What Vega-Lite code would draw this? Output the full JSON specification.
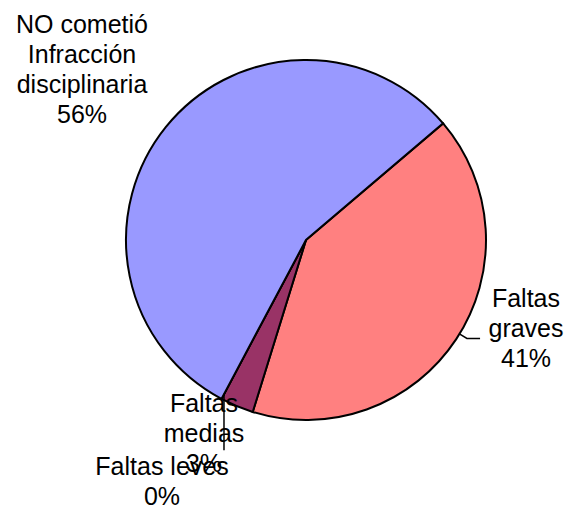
{
  "$schema": "https://vega.github.io/schema/vega-lite/v6.json",
  "width": 360,
  "height": 362,
  "autosize": "none",
  "padding": {"left": 126, "top": 59, "right": 85, "bottom": 89},
  "background": "white",
  "config": {"view": {"stroke": null}, "font": "Liberation Sans"},
  "layer": [
    {
      "data": {"values": [
        {"cat": "Faltas graves", "value": 41, "ord": 1},
        {"cat": "Faltas medias", "value": 3, "ord": 2},
        {"cat": "Faltas leves", "value": 0, "ord": 3},
        {"cat": "NO cometió Infracción disciplinaria", "value": 56, "ord": 4}
      ]},
      "mark": {"type": "arc", "stroke": "black", "strokeWidth": 2, "outerRadius": 180},
      "encoding": {
        "theta": {"field": "value", "type": "quantitative", "stack": true, "scale": {"range": [0.866, 7.149]}},
        "order": {"field": "ord", "type": "quantitative"},
        "color": {"field": "cat", "type": "nominal", "legend": null,
          "scale": {"domain": ["Faltas graves", "Faltas medias", "Faltas leves", "NO cometió Infracción disciplinaria"],
                    "range": ["#FF8080", "#993366", "#FFFFCC", "#9999FF"]}}
      }
    },
    {
      "data": {"values": [
        {"id": "g", "ord": 1, "ux": 0.85, "uy": -0.517},
        {"id": "g", "ord": 2, "ux": 0.894, "uy": -0.544},
        {"id": "g", "ord": 3, "ux": 0.967, "uy": -0.544},
        {"id": "m", "ord": 1, "ux": -0.4556, "uy": -0.85},
        {"id": "m", "ord": 2, "ux": -0.4556, "uy": -1.161}
      ]},
      "mark": {"type": "line", "color": "black", "strokeWidth": 1.5},
      "encoding": {
        "x": {"field": "ux", "type": "quantitative", "scale": {"domain": [-1, 1]}, "axis": null},
        "y": {"field": "uy", "type": "quantitative", "scale": {"domain": [-1, 1]}, "axis": null},
        "detail": {"field": "id"},
        "order": {"field": "ord", "type": "quantitative"}
      }
    },
    {
      "data": {"values": [
        {"label": "NO cometió\nInfracción\ndisciplinaria\n56%", "ux": -1.2444, "uy": 1.1444},
        {"label": "Faltas\ngraves\n41%", "ux": 1.2222, "uy": -0.3722},
        {"label": "Faltas\nmedias\n3%", "ux": -0.5667, "uy": -0.95},
        {"label": "Faltas leves\n0%", "ux": -0.8, "uy": -1.3}
      ]},
      "mark": {"type": "text", "fontSize": 25, "lineHeight": 30, "lineBreak": "\n", "align": "center", "baseline": "alphabetic", "color": "black", "font": "Liberation Sans"},
      "encoding": {
        "x": {"field": "ux", "type": "quantitative", "scale": {"domain": [-1, 1]}, "axis": null},
        "y": {"field": "uy", "type": "quantitative", "scale": {"domain": [-1, 1]}, "axis": null},
        "text": {"field": "label"}
      }
    }
  ]
}
